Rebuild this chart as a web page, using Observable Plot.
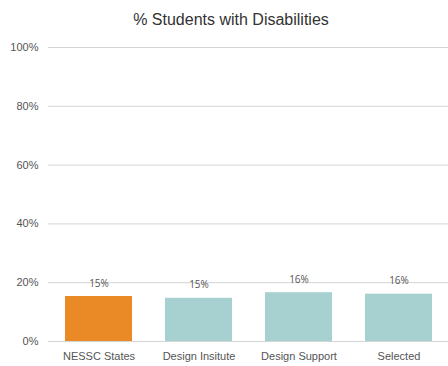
<!DOCTYPE html>
<html>
<head>
<meta charset="utf-8">
<script src="https://cdn.jsdelivr.net/npm/d3@7"></script>
<script src="https://cdn.jsdelivr.net/npm/@observablehq/plot@0.6"></script>
<style>
  body { margin: 0; background: #fff; }
  #title { height: 34px; width: 448px; font: 16px "Liberation Sans", Arial, sans-serif; color: #333; text-align: center; line-height: 40px; padding-left: 14px; box-sizing: border-box; }
</style>
</head>
<body>
<div id="title">% Students with Disabilities</div>
<div id="chart"></div>
<script>
const categories = ["NESSC States", "Design Insitute", "Design Support", "Selected"];
const values = [15.3, 14.7, 16.6, 16.1];
const labels = ["15%", "15%", "16%", "16%"];
const colors = ["#E98A26", "#A6D1D0", "#A6D1D0", "#A6D1D0"];
const yTicks = [0, 20, 40, 60, 80, 100];

const data = categories.map((c, i) => ({category: c, value: values[i], label: labels[i], color: colors[i]}));

const chart = Plot.plot({
  width: 448,
  height: 332,
  marginLeft: 48,
  marginRight: 0,
  marginTop: 13,
  marginBottom: 25,
  style: {fontFamily: "'Liberation Sans', Arial, sans-serif", fontSize: "11px", color: "#555"},
  x: {domain: categories, paddingInner: 0.33, paddingOuter: 0.165, label: null, tickSize: 0, tickPadding: 11},
  y: {domain: [0, 100], ticks: yTicks, tickFormat: d => d + "%", label: null, tickSize: 0, tickPadding: 10},
  marks: [
    Plot.ruleY(yTicks, {stroke: "#d4d4d4", strokeWidth: 1}),
    Plot.barY(data, {x: "category", y: "value", fill: "color"}),
    Plot.text(data, {x: "category", y: "value", text: "label", dy: -13, fill: "#555", fontSize: 10, fontFamily: "'Open Sans', sans-serif"})
  ]
});
document.getElementById("chart").appendChild(chart);
</script>
</body>
</html>
